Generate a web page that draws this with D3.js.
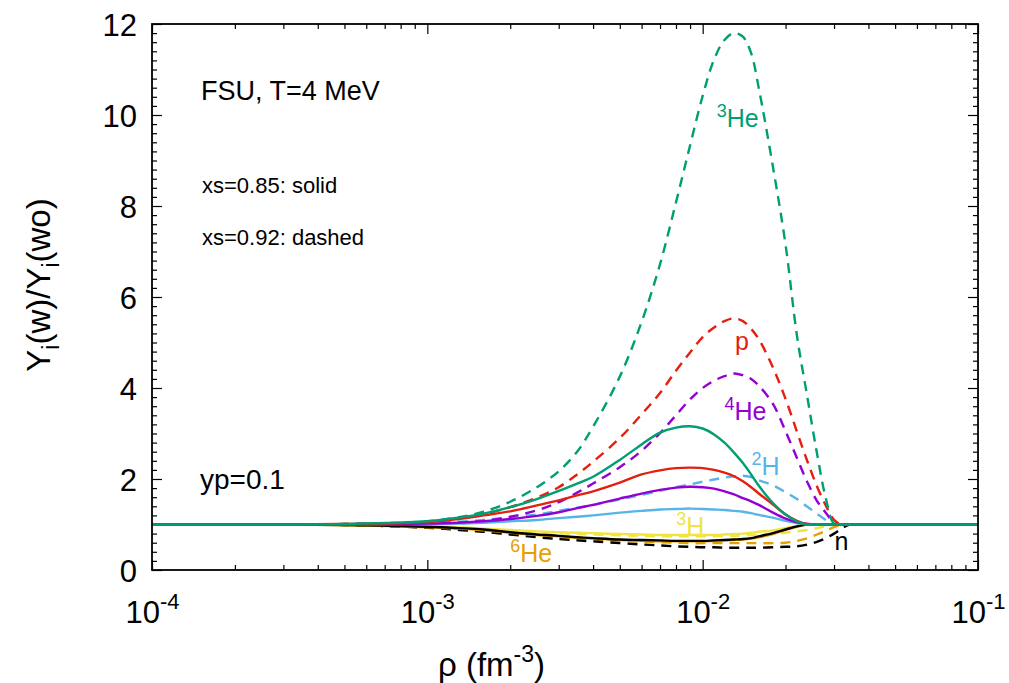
<!DOCTYPE html>
<html>
<head>
<meta charset="utf-8">
<script src="https://cdn.jsdelivr.net/npm/d3@7/dist/d3.min.js"></script>
<style>
  html, body { margin: 0; padding: 0; background: #fff; }
  svg { display: block; font-family: "Liberation Sans", Arial, Helvetica, sans-serif; }
</style>
</head>
<body>
<svg id="chart" width="1009" height="683"></svg>
<script>
// Density grid (fm^-3)
const rho = [1e-4, 2e-4, 3e-4, 5e-4, 1e-3, 1.3e-3, 1.6e-3, 2e-3, 2.5e-3, 3e-3, 3.5e-3, 4e-3,
  5e-3, 6e-3, 7e-3, 8e-3, 9e-3, 0.010, 0.011, 0.012, 0.013, 0.014, 0.015, 0.016,
  0.018, 0.020, 0.022, 0.024, 0.026, 0.028, 0.030, 0.032, 0.034, 0.04, 0.05, 0.1];

// Ratios Y_i(w)/Y_i(wo), xs = 0.85 (solid)
const he3_085 = [1,1,1,1.01,1.07,1.15,1.24,1.38,1.56,1.74,1.90,2.05,2.42,2.76,3.02,3.13,3.16,3.11,2.98,2.80,2.58,2.35,2.10,1.85,1.47,1.22,1.07,1.0,1,1,1,1,1,1,1,1];
const p_085   = [1,1,1,1.01,1.05,1.12,1.20,1.29,1.42,1.53,1.64,1.73,1.92,2.10,2.19,2.24,2.25,2.24,2.20,2.14,2.06,1.95,1.82,1.68,1.44,1.22,1.08,1.01,1,1,1,1,1,1,1,1];
const he4_085 = [1,1,1,1.0,1.02,1.04,1.07,1.12,1.19,1.27,1.36,1.43,1.57,1.68,1.76,1.81,1.83,1.82,1.79,1.73,1.66,1.58,1.51,1.43,1.26,1.13,1.05,1.01,1,1,1,1,1,1,1,1];
const h2_085  = [1,1,1,1.0,1.01,1.02,1.04,1.07,1.10,1.14,1.17,1.20,1.26,1.30,1.33,1.34,1.35,1.34,1.33,1.32,1.30,1.28,1.25,1.21,1.15,1.08,1.03,1.0,1,1,1,1,1,1,1,1];
const h3_085  = [1,1,1,0.99,0.96,0.94,0.91,0.88,0.85,0.83,0.82,0.81,0.79,0.78,0.77,0.77,0.77,0.77,0.77,0.78,0.79,0.80,0.82,0.84,0.87,0.92,0.97,1.0,1,1,1,1,1,1,1,1];
const he6_085 = [1,1,1,0.99,0.94,0.91,0.87,0.82,0.77,0.74,0.71,0.69,0.66,0.64,0.63,0.63,0.63,0.63,0.64,0.65,0.66,0.67,0.69,0.72,0.79,0.88,0.95,1.0,1,1,1,1,1,1,1,1];
const n_085   = [1,1,1,0.99,0.95,0.92,0.89,0.83,0.78,0.75,0.72,0.70,0.67,0.66,0.65,0.64,0.64,0.64,0.65,0.66,0.67,0.68,0.70,0.74,0.81,0.89,0.96,1.0,1,1,1,1,1,1,1,1];

// Ratios Y_i(w)/Y_i(wo), xs = 0.92 (dashed)
const he3_092 = [1,1,1,1.01,1.07,1.16,1.28,1.50,1.82,2.17,2.60,3.15,4.25,5.45,6.72,8.08,9.33,10.42,11.22,11.65,11.80,11.72,11.36,10.58,8.86,7.15,5.15,3.80,2.57,1.58,1.02,1,1,1,1,1];
const p_092   = [1,1,1,1.01,1.05,1.14,1.23,1.38,1.59,1.82,2.10,2.38,2.90,3.42,3.89,4.38,4.78,5.12,5.33,5.47,5.53,5.47,5.30,5.07,4.45,3.76,3.04,2.39,1.84,1.42,1.10,1.0,1,1,1,1];
const he4_092 = [1,1,1,1.0,1.02,1.04,1.08,1.17,1.31,1.49,1.70,1.90,2.26,2.62,3.01,3.40,3.75,4.00,4.16,4.26,4.32,4.28,4.20,4.05,3.65,3.05,2.46,1.93,1.52,1.26,1.04,1.0,1,1,1,1];
const h2_092  = [1,1,1,1.0,1.03,1.06,1.10,1.16,1.22,1.30,1.37,1.43,1.55,1.65,1.74,1.82,1.88,1.94,1.99,2.03,2.06,2.07,2.04,1.97,1.86,1.71,1.56,1.39,1.24,1.10,1.01,1.0,1,1,1,1];
const h3_092  = [1,1,1,0.99,0.95,0.92,0.89,0.86,0.83,0.81,0.79,0.78,0.76,0.75,0.74,0.74,0.74,0.74,0.74,0.75,0.75,0.76,0.77,0.78,0.80,0.82,0.85,0.88,0.92,0.96,1.0,1.0,1,1,1,1];
const he6_092 = [1,1,1,0.99,0.93,0.89,0.84,0.79,0.74,0.71,0.69,0.67,0.64,0.62,0.61,0.60,0.59,0.59,0.59,0.59,0.59,0.59,0.59,0.59,0.59,0.60,0.64,0.70,0.78,0.86,0.94,1.0,1,1,1,1];
const n_092   = [1,1,1,0.99,0.93,0.88,0.84,0.78,0.72,0.68,0.65,0.63,0.59,0.56,0.54,0.52,0.51,0.50,0.50,0.49,0.49,0.49,0.49,0.49,0.50,0.51,0.52,0.56,0.62,0.70,0.80,0.91,0.99,1,1,1];

// Axis ticks
const xMajorTicks = [1e-4, 1e-3, 1e-2, 1e-1];
const xTickExponents = ["-4", "-3", "-2", "-1"];
const yMajorTicks = [0, 2, 4, 6, 8, 10, 12];

// Species labels placed on the curves
const labelSup   = ["3", "", "4", "2", "3", "6", ""];
const labelMain  = ["He", "p", "He", "H", "H", "He", "n"];
const labelRho   = [0.01125, 0.0131, 0.0120, 0.01503, 0.00802, 0.0020, 0.0301];
const labelValue = [9.74, 4.84, 3.30, 2.09, 0.77, 0.18, 0.44];

const colors = {
  he3: "#009e73", p: "#e51e10", he4: "#9400d3", h2: "#56b4e9",
  h3: "#f0e442", he6: "#e69f00", n: "#000000"
};
const labelColors = [colors.he3, colors.p, colors.he4, colors.h2, colors.h3, colors.he6, colors.n];

// Drawing order: dashed first, then solid; 3He on top
const series = [
  { v: h3_092,  c: colors.h3,  dash: true },
  { v: he6_092, c: colors.he6, dash: true },
  { v: n_092,   c: colors.n,   dash: true },
  { v: h2_092,  c: colors.h2,  dash: true },
  { v: he4_092, c: colors.he4, dash: true },
  { v: p_092,   c: colors.p,   dash: true },
  { v: he3_092, c: colors.he3, dash: true },
  { v: h3_085,  c: colors.h3,  dash: false },
  { v: he6_085, c: colors.he6, dash: false },
  { v: n_085,   c: colors.n,   dash: false },
  { v: h2_085,  c: colors.h2,  dash: false },
  { v: he4_085, c: colors.he4, dash: false },
  { v: p_085,   c: colors.p,   dash: false },
  { v: he3_085, c: colors.he3, dash: false }
];

const L = 152, R = 978, T = 24, B = 570;
const svg = d3.select("#chart");

const x = d3.scaleLog().domain([1e-4, 1e-1]).range([L, R]);
const y = d3.scaleLinear().domain([0, 12]).range([B, T]);

// minor ticks
const xMinor = [];
for (let e = -4; e < -1; e++) for (let k = 2; k <= 9; k++) xMinor.push(k * Math.pow(10, e));
const yMinor = d3.range(0, 12.001, 0.2).filter(v => Math.abs(v / 2 - Math.round(v / 2)) > 1e-6);

const tickStyle = g => {
  g.select(".domain").remove();
  g.selectAll(".tick line").attr("stroke", "#000").attr("stroke-width", 1.2);
};

// Bottom / top
svg.append("g").attr("transform", `translate(0,${B})`)
  .call(d3.axisBottom(x).tickValues(xMinor).tickSize(-5).tickFormat(() => "")).call(tickStyle);
svg.append("g").attr("transform", `translate(0,${T})`)
  .call(d3.axisTop(x).tickValues(xMinor).tickSize(-5).tickFormat(() => "")).call(tickStyle);
svg.append("g").attr("transform", `translate(0,${T})`)
  .call(d3.axisTop(x).tickValues(xMajorTicks).tickSize(-10).tickFormat(() => "")).call(tickStyle);
const xAxis = svg.append("g").attr("transform", `translate(0,${B})`)
  .call(d3.axisBottom(x).tickValues(xMajorTicks).tickSize(-10).tickPadding(0).tickFormat(() => ""))
  .call(tickStyle);
xAxis.selectAll(".tick text").remove();
xAxis.selectAll(".tick").append("text")
  .attr("y", 53).attr("text-anchor", "middle").attr("fill", "#000")
  .attr("font-size", 31)
  .each(function (d, i) {
    const t = d3.select(this);
    t.append("tspan").text("10");
    t.append("tspan").attr("dy", -14).attr("font-size", 22).text(xTickExponents[i]);
  });

// Left / right
svg.append("g").attr("transform", `translate(${L},0)`)
  .call(d3.axisLeft(y).tickValues(yMinor).tickSize(-5).tickFormat(() => "")).call(tickStyle);
svg.append("g").attr("transform", `translate(${R},0)`)
  .call(d3.axisRight(y).tickValues(yMinor).tickSize(-5).tickFormat(() => "")).call(tickStyle);
svg.append("g").attr("transform", `translate(${R},0)`)
  .call(d3.axisRight(y).tickValues(yMajorTicks).tickSize(-10).tickFormat(() => "")).call(tickStyle);
const yAxis = svg.append("g").attr("transform", `translate(${L},0)`)
  .call(d3.axisLeft(y).tickValues(yMajorTicks).tickSize(-10).tickPadding(15).tickFormat(d3.format("d")))
  .call(tickStyle);
yAxis.selectAll(".tick text").attr("font-size", 31).attr("fill", "#000")
  .attr("font-family", "\"Liberation Sans\", Arial, sans-serif").attr("dy", "0.36em");

// Curves
svg.append("clipPath").attr("id", "plot-clip")
  .append("rect").attr("x", L).attr("y", T).attr("width", R - L).attr("height", B - T);

const line = d3.line()
  .x((d, i) => x(rho[i]))
  .y(d => y(d))
  .curve(d3.curveCatmullRom.alpha(0.5));

svg.append("g").attr("clip-path", "url(#plot-clip)")
  .selectAll("path").data(series).join("path")
  .attr("d", d => line(d.v))
  .attr("fill", "none")
  .attr("stroke", d => d.c)
  .attr("stroke-width", 2.4)
  .attr("stroke-dasharray", d => d.dash ? "10,7" : null);

// Frame
svg.append("rect").attr("x", L).attr("y", T).attr("width", R - L).attr("height", B - T)
  .attr("fill", "none").attr("stroke", "#000").attr("stroke-width", 1.8);

// Species labels
const lab = svg.append("g");
labelMain.forEach((m, i) => {
  const t = lab.append("text")
    .attr("x", x(labelRho[i])).attr("y", y(labelValue[i]))
    .attr("fill", labelColors[i]).attr("font-size", 25);
  if (labelSup[i]) {
    t.append("tspan").attr("font-size", 18).attr("dy", -10).text(labelSup[i]);
    t.append("tspan").attr("dy", 10).text(m);
  } else {
    t.append("tspan").text(m);
  }
});

// Annotations
svg.append("text").attr("x", 201).attr("y", 100).attr("font-size", 27).text("FSU, T=4 MeV");
svg.append("text").attr("x", 202).attr("y", 193).attr("font-size", 22).text("xs=0.85: solid");
svg.append("text").attr("x", 202).attr("y", 245).attr("font-size", 22).text("xs=0.92: dashed");
svg.append("text").attr("x", 200).attr("y", 489).attr("font-size", 28).text("yp=0.1");

// Axis titles
const xt = svg.append("text").attr("x", 438).attr("y", 676).attr("font-size", 33);
xt.append("tspan").text("ρ (fm");
xt.append("tspan").attr("dy", -14).attr("font-size", 23).text("-3");
xt.append("tspan").attr("dy", 14).text(")");

const yt = svg.append("text")
  .attr("transform", "translate(50,285) rotate(-90)")
  .attr("text-anchor", "middle").attr("font-size", 33);
yt.append("tspan").text("Y");
yt.append("tspan").attr("dy", 9).attr("font-size", 23).text("i");
yt.append("tspan").attr("dy", -9).text("(w)/Y");
yt.append("tspan").attr("dy", 9).attr("font-size", 23).text("i");
yt.append("tspan").attr("dy", -9).text("(wo)");
</script>
</body>
</html>
